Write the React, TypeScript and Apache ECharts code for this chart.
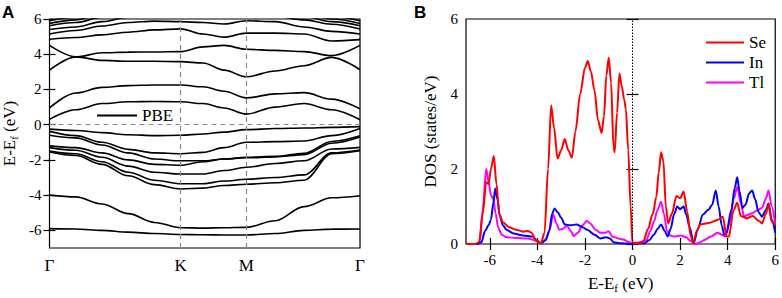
import React, { useEffect, useRef } from "react";
import * as echarts from "echarts";

// ---------- Panel A: band structure ----------
// k-path positions (Γ-K : K-M : M-Γ = 1 : 0.5 : 0.866)
const K_PATH = [0, 0.2, 0.4, 0.6, 0.8, 1.0, 1.17, 1.33, 1.5, 1.72, 1.94, 2.15, 2.366];
const K_TICKS = [0, 1, 1.5, 2.366];
const K_LABELS = ["Γ", "K", "M", "Γ"];
const E_TICKS = [-6, -4, -2, 0, 2, 4, 6];

// valence bands (eV) at K_PATH points
const V1 = [-0.25, -0.33, -0.45, -0.57, -0.62, -0.6, -0.53, -0.42, -0.28, -0.22, -0.19, -0.15, -0.11];
const V2 = [-0.38, -0.62, -1.0, -1.4, -1.6, -1.65, -1.57, -1.3, -1.0, -0.96, -0.93, -0.62, -0.22];
const V3 = [-0.6, -0.75, -1.15, -1.6, -1.95, -2.05, -2.05, -1.95, -1.85, -1.8, -1.62, -0.95, -0.63];
const V4 = [-1.2, -1.3, -1.6, -2.0, -2.25, -2.3, -2.1, -1.95, -1.88, -1.83, -1.7, -1.05, -0.7];
const V5 = [-1.3, -1.45, -1.85, -2.35, -2.7, -2.8, -2.8, -2.6, -2.42, -2.2, -2.05, -1.38, -1.29];
const V6 = [-1.5, -1.65, -2.1, -2.7, -3.15, -3.35, -3.35, -3.2, -3.1, -3.0, -2.85, -1.6, -1.44];
const V7 = [-1.55, -1.75, -2.25, -2.9, -3.4, -3.65, -3.6, -3.45, -3.38, -3.3, -3.15, -1.65, -1.48];
const V8 = [-4.0, -4.1, -4.5, -5.05, -5.55, -5.85, -5.87, -5.85, -5.83, -5.45, -4.65, -4.15, -4.03];
const V9 = [-5.9, -5.92, -6.0, -6.1, -6.18, -6.23, -6.25, -6.26, -6.26, -6.18, -6.0, -5.93, -5.92];

// conduction bands (eV)
const C1 = [0.3, 0.85, 1.2, 1.3, 1.32, 1.3, 1.2, 0.95, 0.6, 1.0, 1.2, 0.85, 0.28];
const C2 = [0.95, 1.8, 2.12, 2.22, 2.25, 2.25, 2.15, 1.9, 1.52, 1.75, 1.82, 1.45, 0.9];
const C3 = [4.5, 3.85, 3.65, 3.6, 3.6, 3.58, 3.5, 3.1, 2.72, 3.05, 3.35, 3.82, 3.12];
const C4 = [3.1, 3.85, 4.08, 4.12, 4.13, 4.15, 4.42, 4.5, 4.28, 4.22, 4.15, 3.92, 4.5];
const C5 = [4.85, 4.95, 5.1, 5.25, 5.38, 5.44, 5.15, 4.97, 5.2, 5.2, 5.15, 4.75, 4.83];
const C6 = [5.15, 5.35, 5.6, 5.8, 5.88, 5.85, 5.8, 5.72, 5.9, 5.85, 5.55, 5.3, 5.15];
const C7 = [5.4, 5.55, 5.85, 6.1, 6.25, 6.3, 6.3, 6.25, 6.2, 6.15, 5.95, 5.7, 5.43];
const C8 = [5.62, 5.8, 6.1, 6.3, 6.4, 6.4, 6.4, 6.4, 6.4, 6.35, 6.15, 5.85, 5.62];
const C9 = [5.75, 5.95, 6.3, 6.5, 6.6, 6.6, 6.6, 6.6, 6.6, 6.5, 6.3, 6.0, 5.75];
const C10 = [5.9, 6.1, 6.4, 6.6, 6.7, 6.7, 6.7, 6.7, 6.7, 6.6, 6.45, 6.15, 5.9];

const BANDS = [V1, V2, V3, V4, V5, V6, V7, V8, V9, C1, C2, C3, C4, C5, C6, C7, C8, C9, C10];

// ---------- Panel B: DOS ----------
const DOS_TICKS = [-6, -4, -2, 0, 2, 4, 6];

const SE_DOS = [
  [-7, 0], [-6.6, 0], [-6.45, 0.05], [-6.3, 0.8], [-6.15, 1.65], [-6.05, 1.6], [-5.95, 2.0], [-5.83, 2.35],
  [-5.72, 1.6], [-5.6, 0.8], [-5.45, 0.58], [-5.2, 0.45], [-4.9, 0.38], [-4.6, 0.33], [-4.4, 0.35], [-4.25, 0.3],
  [-4.05, 0.08], [-3.85, 0.02], [-3.7, 0.3], [-3.55, 2.0], [-3.42, 3.7], [-3.3, 3.1], [-3.15, 2.28], [-3.0, 2.5],
  [-2.85, 2.8], [-2.7, 2.5], [-2.55, 2.3], [-2.4, 3.0], [-2.2, 4.0], [-2.0, 4.7], [-1.88, 4.88], [-1.75, 4.6],
  [-1.6, 4.1], [-1.45, 3.3], [-1.3, 2.96], [-1.2, 3.4], [-1.1, 4.5], [-1.0, 4.97], [-0.9, 4.3], [-0.8, 2.6],
  [-0.75, 2.45], [-0.65, 3.5], [-0.55, 4.55], [-0.45, 4.2], [-0.35, 3.85], [-0.28, 3.6], [-0.18, 2.5], [-0.08, 1.0],
  [0, 0.02], [0.3, 0.02], [0.45, 0.05], [0.65, 0.4], [0.85, 0.8], [1.0, 1.25], [1.1, 1.9], [1.2, 2.45],
  [1.3, 2.2], [1.4, 1.0], [1.5, 0.55], [1.65, 0.8], [1.85, 1.28], [2.0, 1.22], [2.15, 1.4], [2.3, 0.85],
  [2.45, 0.2], [2.55, 0.02], [2.7, 0.35], [2.85, 0.52], [3.2, 0.56], [3.6, 0.65], [3.8, 0.73], [3.95, 0.2],
  [4.05, 0.2], [4.25, 0.9], [4.4, 1.1], [4.55, 0.75], [4.8, 0.68], [5.05, 0.75], [5.3, 0.62], [5.45, 0.55],
  [5.6, 0.8], [5.72, 1.05], [5.85, 0.6], [6.0, 0.5],
];

const IN_DOS = [
  [-7, 0], [-6.5, 0], [-6.35, 0.05], [-6.2, 0.35], [-6.05, 0.5], [-5.95, 0.65], [-5.85, 1.1], [-5.77, 1.48],
  [-5.68, 1.2], [-5.58, 0.75], [-5.45, 0.5], [-5.3, 0.38], [-5.0, 0.28], [-4.6, 0.23], [-4.2, 0.2], [-4.0, 0.08],
  [-3.85, 0.02], [-3.65, 0.1], [-3.5, 0.35], [-3.38, 0.8], [-3.28, 0.95], [-3.15, 0.85], [-3.0, 0.7], [-2.85, 0.52],
  [-2.6, 0.5], [-2.35, 0.52], [-2.1, 0.45], [-1.9, 0.38], [-1.6, 0.25], [-1.36, 0.15], [-1.1, 0.18], [-0.95, 0.15],
  [-0.8, 0.05], [-0.5, 0.02], [0, 0], [0.5, 0.02], [0.7, 0.1], [0.9, 0.25], [1.05, 0.4], [1.2, 0.52],
  [1.35, 0.35], [1.48, 0.2], [1.6, 0.4], [1.75, 0.8], [1.88, 1.0], [2.0, 0.93], [2.15, 1.0], [2.25, 0.8],
  [2.4, 0.45], [2.57, 0.02], [2.75, 0.4], [2.95, 0.78], [3.2, 0.92], [3.35, 1.05], [3.5, 1.43], [3.62, 1.0],
  [3.75, 0.5], [3.85, 0.25], [3.95, 0.3], [4.15, 0.9], [4.3, 1.5], [4.4, 1.78], [4.5, 1.4], [4.62, 0.96],
  [4.75, 1.05], [4.9, 1.35], [5.03, 1.43], [5.15, 1.2], [5.3, 0.85], [5.44, 0.73], [5.6, 0.9], [5.72, 1.08],
  [5.85, 0.65], [6.0, 0.3],
];

const TL_DOS = [
  [-7, 0], [-6.5, 0], [-6.42, 0.05], [-6.3, 0.9], [-6.15, 2.0], [-6.05, 1.65], [-5.95, 1.3], [-5.85, 1.2],
  [-5.75, 0.8], [-5.65, 0.45], [-5.5, 0.25], [-5.3, 0.18], [-4.9, 0.16], [-4.4, 0.15], [-4.1, 0.1], [-3.85, 0.02],
  [-3.65, 0.12], [-3.5, 0.35], [-3.33, 0.78], [-3.2, 0.55], [-3.08, 0.38], [-2.95, 0.4], [-2.75, 0.48], [-2.6, 0.35],
  [-2.47, 0.21], [-2.3, 0.3], [-2.1, 0.5], [-1.92, 0.62], [-1.78, 0.55], [-1.55, 0.38], [-1.36, 0.3], [-1.15, 0.3],
  [-1.0, 0.34], [-0.85, 0.2], [-0.6, 0.15], [-0.39, 0.12], [-0.15, 0.05], [0, 0.02], [0.3, 0.05], [0.58, 0.1],
  [0.75, 0.35], [0.9, 0.6], [1.05, 0.9], [1.2, 1.13], [1.32, 0.8], [1.45, 0.35], [1.6, 0.22], [1.76, 0.2],
  [2.04, 0.23], [2.25, 0.18], [2.45, 0.08], [2.65, 0.0], [2.85, 0.05], [3.0, 0.1], [3.3, 0.2], [3.57, 0.3],
  [3.75, 0.25], [3.9, 0.2], [4.1, 0.6], [4.25, 1.2], [4.4, 1.52], [4.55, 1.1], [4.69, 0.73], [4.85, 0.78],
  [5.03, 0.82], [5.25, 0.9], [5.44, 0.96], [5.6, 1.2], [5.72, 1.43], [5.85, 1.0], [6.0, 0.52],
];

const SERIF = "Liberation Serif";

export default function App() {
  const ref = useRef<HTMLDivElement>(null);

  useEffect(() => {
    if (!ref.current) return;
    const chart = echarts.init(ref.current, undefined, { renderer: "svg" });

    const tickLabel = { color: "#000", fontFamily: SERIF, fontSize: 15 };
    const nameStyle = {
      color: "#000",
      fontFamily: SERIF,
      fontSize: 17,
      rich: {
        a: { fontFamily: SERIF, fontSize: 17, color: "#000", lineHeight: 20, verticalAlign: "middle" },
        b: { fontFamily: SERIF, fontSize: 11, color: "#000", lineHeight: 11, verticalAlign: "bottom" },
      },
    };
    const dash = { color: "#8a8a8a", width: 1.2, type: [5, 4] };
    const tick = { show: true, inside: true, length: 6, lineStyle: { color: "#000", width: 1.2 } };

    const bandSeries = BANDS.map((band, i) => ({
      type: "line",
      name: "PBE",
      xAxisIndex: 0,
      yAxisIndex: 0,
      data: band.map((e, j) => [K_PATH[j], e]),
      smooth: 0.35,
      smoothMonotone: "x",
      symbol: "none",
      showSymbol: false,
      lineStyle: { color: "#000", width: 1.6 },
      itemStyle: { color: "#000" },
      silent: true,
      z: 3,
      ...(i === 0
        ? {
            markLine: {
              silent: true,
              symbol: ["none", "none"],
              label: { show: false },
              lineStyle: dash,
              data: [{ xAxis: K_TICKS[1] }, { xAxis: K_TICKS[2] }, { yAxis: 0 }],
            },
          }
        : {}),
    }));

    const dosSeries = [
      { name: "Se", data: SE_DOS, color: "#ff0000" },
      { name: "In", data: IN_DOS, color: "#0000ff" },
      { name: "Tl", data: TL_DOS, color: "#ff00ff" },
    ].map((s, i) => ({
      type: "line",
      name: s.name,
      xAxisIndex: 2,
      yAxisIndex: 2,
      data: s.data,
      smooth: 0.3,
      smoothMonotone: "x",
      symbol: "none",
      showSymbol: false,
      lineStyle: { color: s.color, width: 2 },
      itemStyle: { color: s.color },
      silent: true,
      z: 4 - i,
      ...(i === 0
        ? {
            markLine: {
              silent: true,
              symbol: ["none", "none"],
              label: { show: false },
              lineStyle: { color: "#000", width: 1, type: [1.5, 1.5] },
              data: [{ xAxis: 0 }],
            },
          }
        : {}),
    }));

    const legendText = { color: "#000", fontFamily: SERIF, fontSize: 17 };

    const option = {
      animation: false,
      backgroundColor: "#fff",
      graphic: [
        {
          type: "text",
          style: { x: 2, y: 12, text: "A", font: "bold 17px 'Liberation Sans'", fill: "#000", verticalAlign: "middle" },
        },
        {
          type: "text",
          style: { x: 414, y: 12, text: "B", font: "bold 17px 'Liberation Sans'", fill: "#000", verticalAlign: "middle" },
        },
      ],
      legend: [
        {
          data: [{ name: "PBE", icon: "rect", itemStyle: { color: "#000" } }],
          left: 97,
          top: 107,
          padding: 0,
          itemWidth: 40,
          itemHeight: 2,
          textStyle: legendText,
          selectedMode: false,
        },
        {
          data: [
            { name: "Se", icon: "rect", itemStyle: { color: "#ff0000" } },
            { name: "In", icon: "rect", itemStyle: { color: "#0000ff" } },
            { name: "Tl", icon: "rect", itemStyle: { color: "#ff00ff" } },
          ],
          orient: "vertical",
          left: 706,
          top: 34,
          padding: 0,
          itemWidth: 38,
          itemHeight: 2,
          itemGap: 3,
          textStyle: legendText,
          selectedMode: false,
        },
      ],
      grid: [
        { left: 48, top: 19, width: 312, height: 229, show: true, borderColor: "#000", borderWidth: 1.2, backgroundColor: "transparent" },
        { left: 466, top: 19, width: 311, height: 229, show: true, borderColor: "#000", borderWidth: 1.2, backgroundColor: "transparent" },
      ],
      xAxis: [
        {
          type: "value",
          gridIndex: 0,
          min: 0,
          max: K_TICKS[3],
          axisLine: { show: false },
          axisTick: { show: false },
          splitLine: { show: false },
          axisLabel: {
            ...tickLabel,
            fontSize: 17,
            margin: 9,
            customValues: K_TICKS,
            formatter: (v: number) => {
              const i = K_TICKS.findIndex((t) => Math.abs(t - v) < 1e-6);
              return i >= 0 ? K_LABELS[i] : "";
            },
          },
        },
        {
          type: "value",
          gridIndex: 0,
          position: "top",
          min: 0,
          max: K_TICKS[3],
          axisLine: { show: false },
          axisTick: { show: false },
          axisLabel: { show: false },
          splitLine: { show: false },
        },
        {
          type: "value",
          gridIndex: 1,
          min: -7,
          max: 6,
          name: "{a|E-E}{b|f}{a| (eV)}",
          nameLocation: "middle",
          nameGap: 29,
          nameTextStyle: nameStyle,
          axisLine: { show: false },
          axisTick: { ...tick, customValues: DOS_TICKS },
          axisLabel: { ...tickLabel, margin: 8, customValues: DOS_TICKS },
          splitLine: { show: false },
        },
        {
          type: "value",
          gridIndex: 1,
          position: "top",
          min: -7,
          max: 6,
          axisLine: { show: false },
          axisTick: { ...tick, customValues: DOS_TICKS },
          axisLabel: { show: false },
          splitLine: { show: false },
        },
      ],
      yAxis: [
        {
          type: "value",
          gridIndex: 0,
          min: -7,
          max: 6,
          name: "{a|E-E}{b|f}{a| (eV)}",
          nameLocation: "middle",
          nameGap: 30,
          nameRotate: 90,
          nameTextStyle: nameStyle,
          axisLine: { show: false },
          axisTick: { ...tick, customValues: E_TICKS },
          axisLabel: { ...tickLabel, margin: 8, customValues: E_TICKS },
          splitLine: { show: false },
        },
        {
          type: "value",
          gridIndex: 0,
          position: "right",
          min: -7,
          max: 6,
          axisLine: { show: false },
          axisTick: { ...tick, customValues: E_TICKS },
          axisLabel: { show: false },
          splitLine: { show: false },
        },
        {
          type: "value",
          gridIndex: 1,
          min: 0,
          max: 6,
          interval: 2,
          name: "DOS (states/eV)",
          nameLocation: "middle",
          nameGap: 27,
          nameRotate: 90,
          nameTextStyle: { color: "#000", fontFamily: SERIF, fontSize: 17 },
          axisLine: { show: false },
          axisTick: tick,
          axisLabel: { ...tickLabel, margin: 8 },
          splitLine: { show: false },
        },
        {
          type: "value",
          gridIndex: 1,
          position: "right",
          min: 0,
          max: 6,
          interval: 2,
          axisLine: { show: false },
          axisTick: tick,
          axisLabel: { show: false },
          splitLine: { show: false },
        },
      ],
      series: [...bandSeries, ...dosSeries],
    };

    chart.setOption(option as any);
    return () => chart.dispose();
  }, []);

  return (
    <div
      ref={ref}
      style={{ position: "absolute", left: 0, top: 0, width: 782, height: 298, background: "#fff" }}
    />
  );
}
